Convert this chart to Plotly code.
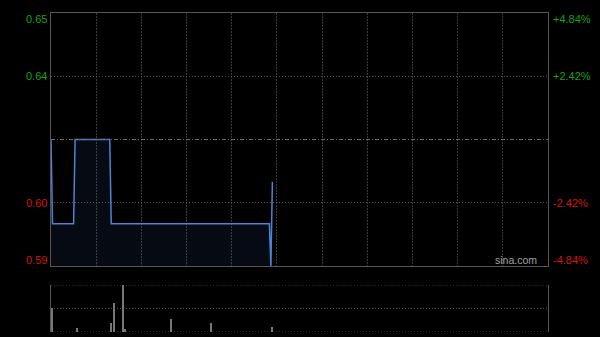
import plotly.graph_objects as go

# ---- data ----
# price path (minutes since 09:30 open, HK session 330 trading minutes)
price_minutes = [0, 1, 15, 16, 39, 40, 145, 146, 147]
prices = [0.62, 0.60, 0.60, 0.62, 0.62, 0.60, 0.60, 0.59, 0.61]
prev_close = 0.62

# volume bars
vol_minutes = [1, 17, 40, 42, 48, 49, 80, 106, 147]
volumes = [51000, 8500, 20000, 61000, 100000, 6000, 28000, 20000, 11000]
vol_max = 100000

# axis labels
tick_prices = [0.65, 0.635, 0.605, 0.59]
left_labels = ["0.65", "0.64", "0.60", "0.59"]
right_labels = ["+4.84%", "+2.42%", "-2.42%", "-4.84%"]
label_colors = ["#17a117", "#17a117", "#d01515", "#d01515"]
label_shifts = [-6, 0, 0, 6]

session_minutes = 330

fig = go.Figure()

fig.add_trace(go.Scatter(
    x=price_minutes, y=prices, mode="lines",
    line=dict(color="#4d84d4", width=1.5),
    fill="tozeroy", fillcolor="rgba(40,80,150,0.13)",
    xaxis="x", yaxis="y", hoverinfo="skip", showlegend=False,
))

fig.add_trace(go.Bar(
    x=vol_minutes, y=volumes, width=0.7,
    marker=dict(color="#777777", line=dict(width=0)),
    xaxis="x2", yaxis="y2", hoverinfo="skip", showlegend=False,
))

# previous close line
fig.add_shape(type="line", xref="x", yref="y", x0=0, x1=session_minutes,
              y0=prev_close, y1=prev_close,
              line=dict(color="#6a6a6a", width=1, dash="4px,2px,1px,2px"))

# volume panel top / bottom dotted borders
for yv in [0, vol_max]:
    fig.add_shape(type="line", xref="x2", yref="y2", x0=0, x1=session_minutes,
                  y0=yv, y1=yv, line=dict(color="#555555", width=1, dash="1px,2px"),
                  layer="below")

font = "Liberation Sans, Arial, sans-serif"
for p, lt, rt, c, s in zip(tick_prices, left_labels, right_labels, label_colors, label_shifts):
    fig.add_annotation(x=0, xref="paper", y=p, yref="y", text=lt, showarrow=False,
                       xanchor="right", yanchor="middle", xshift=-2, yshift=s,
                       font=dict(color=c, size=11, family=font))
    fig.add_annotation(x=1, xref="paper", y=p, yref="y", text=rt, showarrow=False,
                       xanchor="left", yanchor="middle", xshift=3, yshift=s,
                       font=dict(color=c, size=11, family=font))

fig.add_annotation(x=1, xref="paper", y=0.59, yref="y", text="sina.com", showarrow=False,
                   xanchor="right", yanchor="bottom", xshift=-9, yshift=-2,
                   font=dict(color="#a0a0a0", size=10.5, family=font))

fig.update_layout(
    width=600, height=337,
    margin=dict(l=51, r=52, t=13, b=5),
    paper_bgcolor="#000000", plot_bgcolor="#000000",
    xaxis=dict(domain=[0, 1], range=[0, session_minutes], dtick=30, tick0=0,
               showticklabels=False, ticks="", showgrid=True, gridcolor="#3a3a3a",
               griddash="2px,1px", gridwidth=1, zeroline=False,
               showline=True, linecolor="#555555", linewidth=1, mirror=True,
               anchor="y"),
    yaxis=dict(domain=[0.2069, 1], range=[0.59, 0.65],
               tickvals=[0.635, 0.605], showticklabels=False, ticks="",
               showgrid=True, gridcolor="#555555", griddash="1px,2px", gridwidth=1,
               zeroline=False, showline=True, linecolor="#555555", linewidth=1,
               mirror=True, anchor="x"),
    xaxis2=dict(domain=[0, 1], range=[0, session_minutes], showticklabels=False,
                ticks="", showgrid=False, zeroline=False, showline=False,
                anchor="y2"),
    yaxis2=dict(domain=[0, 0.1473], range=[0, vol_max],
                tickvals=[vol_max / 2], showticklabels=False, ticks="",
                showgrid=True, gridcolor="#555555", griddash="1px,2px", gridwidth=1,
                zeroline=False, showline=True, linecolor="#555555", linewidth=1,
                mirror=True, anchor="x2"),
    bargap=0,
)

fig.write_html("out.html")
